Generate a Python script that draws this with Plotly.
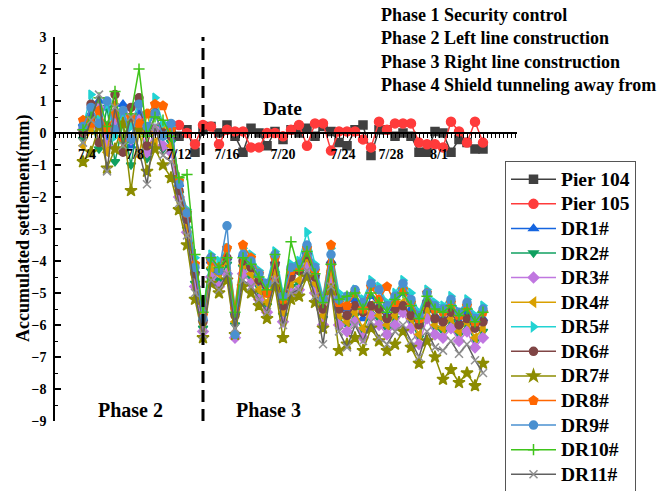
import plotly.graph_objects as go

# ---------------- data ----------------
tick_labels = ["7/4", "7/8", "7/12", "7/16", "7/20", "7/24", "7/28", "8/1"]
tick_positions = [8, 20, 31, 43, 57, 72, 84, 96]
n_units = 116  # measurement slots along the time axis

x_pier = list(range(29, 108, 2))
x_dr = list(range(7, 108, 2))

pier104 = [0.0, -0.1, 0.1, -0.6, 0.1, 0.2, 0.0, 0.25, -0.1, -0.6, 0.15, 0.0, -0.4, 0.05, -0.2, 0.1,
           0.0, 0.15, -0.1, 0.2, 0.05, -0.3, -0.4, 0.1, 0.25, -0.7, 0.1, 0.1, -0.1, 0.0, -0.1, -0.6,
           -0.6, 0.05, 0.0, -0.6, -0.2, -0.3, -0.5, -0.5]
pier105 = [0.25, 0.25, 0.0, -0.35, 0.25, 0.2, -0.35, 0.1, 0.05, 0.05, -0.45, -0.45, 0.0, 0.0, -0.1, 0.1,
           0.25, -0.4, 0.3, 0.3, -0.55, 0.05, 0.05, 0.05, -0.2, -0.45, 0.35, 0.1, 0.3, 0.3, 0.3, -0.3,
           -0.35, -0.35, -0.45, 0.35, 0.05, -0.3, 0.35, -0.3]

dr1 = [0.3, 0.6, 1.0, -0.2, 0.5, 0.9, -0.4, 0.6, 0.1, 0.7, 0.3, 0.2, -1.6, -2.6, -4.3, -5.8,
       -4.0, -4.3, -3.9, -5.6, -3.8, -4.1, -4.7, -5.0, -4.0, -5.3, -4.4, -4.3, -3.7, -4.4, -5.4, -4.0,
       -5.4, -5.5, -5.2, -5.8, -5.1, -5.4, -5.7, -5.3, -5.0, -5.5, -6.0, -5.2, -5.7, -5.8, -5.5, -5.9,
       -5.6, -6.1, -5.8]
dr2 = [-0.2, 0.4, -0.5, 0.8, -0.9, 0.3, -1.0, 0.5, -0.8, 0.2, -0.5, -0.3, -1.9, -3.0, -4.7, -6.1,
       -4.3, -4.6, -4.1, -6.0, -4.2, -4.5, -5.0, -5.4, -4.4, -5.7, -4.8, -4.7, -4.0, -4.8, -5.8, -4.4,
       -5.8, -6.0, -5.7, -6.2, -5.5, -5.8, -6.1, -5.8, -5.4, -5.9, -6.4, -5.6, -6.1, -6.2, -5.9, -6.3,
       -6.0, -6.5, -6.2]
dr3 = [0.1, 0.2, 0.8, -0.4, 0.3, 0.6, -0.2, 0.4, -0.6, 0.1, -0.4, -0.6, -2.0, -3.1, -4.8, -6.2,
       -4.5, -4.8, -4.4, -6.4, -4.4, -4.7, -5.2, -5.6, -4.6, -5.9, -5.0, -4.9, -4.2, -5.0, -6.0, -4.6,
       -6.0, -6.2, -5.9, -6.4, -5.7, -6.0, -6.3, -6.0, -5.6, -6.1, -6.6, -5.8, -6.3, -6.4, -6.1, -6.5,
       -6.2, -6.7, -6.4]
dr4 = [-0.4, 0.1, 0.5, -0.6, 0.9, -0.5, 0.4, -0.7, 0.6, -0.3, 0.2, -0.4, -1.7, -2.9, -4.4, -5.9,
       -4.2, -4.4, -4.0, -5.9, -4.1, -4.4, -4.9, -5.3, -4.3, -5.6, -4.7, -4.6, -3.9, -4.7, -5.7, -4.3,
       -5.7, -5.9, -5.6, -6.1, -5.4, -5.7, -6.0, -5.7, -5.3, -5.8, -6.3, -5.5, -6.0, -6.1, -5.8, -6.2,
       -5.9, -6.4, -6.1]
dr5 = [0.2, 1.2, 0.4, 0.9, -0.1, 0.6, 0.2, 1.0, 0.0, 1.1, 0.3, 0.2, -1.5, -2.4, -3.9, -5.6,
       -3.8, -4.0, -3.6, -5.4, -3.6, -3.8, -4.3, -4.7, -3.7, -5.0, -4.1, -4.0, -3.1, -4.1, -5.1, -3.6,
       -5.0, -5.2, -4.9, -5.2, -4.6, -4.8, -5.3, -5.0, -4.6, -5.0, -5.6, -4.9, -5.3, -5.4, -5.1, -5.6,
       -5.2, -5.7, -5.4]
dr6 = [0.0, 0.9, -0.3, 0.2, 1.2, -0.6, 0.8, 1.1, -0.4, 0.6, 0.0, -0.1, -1.8, -2.7, -4.4, -5.9,
       -3.9, -4.3, -3.9, -5.7, -4.0, -4.2, -4.6, -5.0, -4.1, -5.4, -4.5, -4.3, -3.8, -4.5, -5.5, -4.1,
       -5.5, -5.7, -5.4, -5.6, -5.4, -5.5, -5.8, -5.5, -5.4, -5.7, -6.0, -5.3, -5.8, -5.9, -5.6, -6.0,
       -5.8, -6.1, -5.9]
dr7 = [-0.9, -0.6, 0.2, -1.1, -0.5, 0.3, -1.8, 0.1, -1.2, -0.5, -1.0, -1.4, -2.4, -3.5, -5.2, -6.4,
       -4.7, -5.0, -4.6, -6.3, -4.8, -5.0, -5.4, -5.8, -4.8, -6.4, -5.2, -5.1, -4.5, -5.3, -6.1, -4.9,
       -6.8, -6.6, -6.4, -6.8, -6.1, -6.5, -6.8, -6.6, -6.2, -6.7, -7.2, -6.5, -7.0, -7.7, -7.4, -7.8,
       -7.5, -7.9, -7.2]
dr8 = [0.4, 0.3, 0.7, 0.1, 0.6, -0.2, 0.5, 0.3, 0.6, 0.9, 0.85, 0.1, -1.5, -2.5, -4.1, -5.7,
       -4.0, -4.2, -3.6, -5.5, -3.5, -3.9, -4.4, -5.0, -3.9, -5.2, -4.3, -4.2, -3.6, -4.3, -5.2, -3.5,
       -5.3, -5.4, -5.0, -5.5, -4.8, -5.2, -4.8, -5.3, -4.9, -5.3, -5.8, -5.0, -5.5, -5.6, -5.3, -5.7,
       -5.4, -5.9, -5.6]
dr9 = [0.2, 0.8, 0.3, 1.0, 0.1, 0.7, -0.2, 0.9, 0.2, 0.6, -0.1, 0.3, -1.6, -2.5, -4.2, -5.8,
       -3.9, -4.3, -2.9, -6.3, -3.8, -4.0, -4.4, -4.7, -3.8, -5.1, -4.2, -4.1, -3.5, -4.2, -5.2, -3.8,
       -5.2, -5.1, -4.9, -5.3, -4.7, -4.9, -5.4, -5.1, -4.7, -5.2, -5.7, -5.0, -5.4, -5.5, -5.2, -5.6,
       -5.3, -5.8, -5.5]
dr10 = [0.1, 0.5, 1.1, 0.2, 1.3, -0.3, 0.6, 2.0, -0.1, 0.5, 0.4, -0.1, -1.4, -1.3, -3.8, -5.6,
        -3.9, -4.2, -3.9, -5.6, -3.9, -4.1, -4.5, -4.9, -3.8, -5.2, -3.4, -4.3, -3.7, -4.4, -5.3, -4.1,
        -5.2, -5.1, -5.0, -5.5, -5.0, -5.3, -5.6, -5.2, -5.0, -5.4, -5.8, -5.1, -5.5, -5.6, -5.4, -5.7,
        -5.5, -5.9, -5.6]
dr11 = [-0.3, 0.4, 1.2, -1.2, 0.8, -0.4, 0.5, -0.6, -1.6, 0.2, -0.7, -0.9, -2.2, -3.2, -5.0, -6.3,
        -4.6, -4.9, -4.4, -6.1, -4.6, -4.8, -5.2, -5.6, -4.6, -6.0, -5.0, -4.9, -4.3, -5.1, -6.6, -4.8,
        -6.2, -6.7, -6.0, -6.5, -5.9, -6.4, -6.6, -6.2, -6.0, -6.5, -7.0, -6.2, -6.7, -6.8, -6.5, -6.9,
        -6.6, -7.1, -7.5]

phase_boundary = 37
phase_notes = ["Phase 1 Security control", "Phase 2 Left line construction",
               "Phase 3 Right line construction", "Phase 4 Shield tunneling away from"]

# ---------------- styles ----------------
series = [
    ("Pier 104", x_pier, pier104, "#404040", "#404040", "square", 8),
    ("Pier 105", x_pier, pier105, "#ff3b3b", "#ff3b3b", "circle", 9),
    ("DR1#", x_dr, dr1, "#1565e0", "#1565e0", "triangle-up", 8),
    ("DR2#", x_dr, dr2, "#10a060", "#10a060", "triangle-down", 8),
    ("DR3#", x_dr, dr3, "#c077e0", "#c077e0", "diamond", 8),
    ("DR4#", x_dr, dr4, "#d9a000", "#d9a000", "triangle-left", 8),
    ("DR5#", x_dr, dr5, "#22d3d3", "#22d3d3", "triangle-right", 8),
    ("DR6#", x_dr, dr6, "#804545", "#804545", "circle", 8),
    ("DR7#", x_dr, dr7, "#8c8c00", "#8c8c00", "star", 9),
    ("DR8#", x_dr, dr8, "#ff6600", "#ff6600", "pentagon", 9),
    ("DR9#", x_dr, dr9, "#4a90d0", "#4a90d0", "circle", 8),
    ("DR10#", x_dr, dr10, "#3fc41a", "#3fc41a", "cross-thin", 8),
    ("DR11#", x_dr, dr11, "#606060", "#909090", "x-thin", 8),
]

serif = "Liberation Serif"

fig = go.Figure()
for name, xs, ys, lc, mc, sym, sz in series:
    fig.add_trace(go.Scatter(
        x=xs, y=ys, name='<span style="font-size:19.5px">' + name + '</span>',
        mode="lines+markers",
        line=dict(color=lc, width=1.5),
        marker=dict(symbol=sym, size=sz, color=mc, line=dict(color=mc, width=1.5)),
    ))

fig.add_shape(type="line", x0=phase_boundary, x1=phase_boundary, y0=-9, y1=3,
              xref="x", yref="y", line=dict(color="black", width=3, dash="12px,7px"))

ticktext = [""] * n_units
for p, lab in zip(tick_positions, tick_labels):
    ticktext[p] = lab

fig.update_layout(
    width=657, height=491,
    margin=dict(l=55, r=140, t=37, b=70, autoexpand=False),
    paper_bgcolor="white", plot_bgcolor="white",
    font=dict(family=serif, color="black"),
    showlegend=True,
    legend=dict(x=505 / 657, y=1 - 161 / 491, xref="container", yref="container",
                xanchor="left", yanchor="top", maxheight=1,
                bgcolor="white", bordercolor="#555555", borderwidth=1,
                font=dict(family=serif, size=16.6, weight="bold"),
                itemwidth=45, tracegroupgap=0),
    xaxis=dict(range=[0, 115.5], anchor="free", position=0.75,
               showline=True, linecolor="black", linewidth=2,
               tickmode="array", tickvals=list(range(n_units)), ticktext=ticktext,
               ticks="outside", ticklen=4, tickwidth=1, tickcolor="black",
               tickfont=dict(family=serif, size=14, weight="bold"),
               ticklabelstandoff=4,
               showgrid=False, zeroline=False),
    yaxis=dict(range=[-9, 3], dtick=1, showline=True, linecolor="black", linewidth=1.5,
               ticks="inside", ticklen=6, tickwidth=1.5, tickcolor="black",
               minor=dict(dtick=0.5, ticks="inside", ticklen=3, tickwidth=1, tickcolor="black"),
               tickfont=dict(family=serif, size=14, weight="bold"),
               ticklabelstandoff=4,
               showgrid=False, zeroline=False),
)

fig.add_annotation(x=-32 / 462, y=0.5, xref="paper", yref="paper", textangle=-90,
                   xanchor="center", yanchor="middle",
                   text="Accumulated settlement(mm)", showarrow=False,
                   font=dict(family=serif, size=18, weight="bold"))
fig.add_annotation(x=56.75, y=0.78, xref="x", yref="y", text="Date", showarrow=False,
                   font=dict(family=serif, size=19.5, weight="bold"))
fig.add_annotation(x=18.75, y=-8.65, xref="x", yref="y", text="Phase 2", showarrow=False,
                   font=dict(family=serif, size=20, weight="bold"))
fig.add_annotation(x=53.25, y=-8.65, xref="x", yref="y", text="Phase 3", showarrow=False,
                   font=dict(family=serif, size=20, weight="bold"))
for i, note in enumerate(phase_notes):
    fig.add_annotation(x=0.701, y=1.057 - i * 0.0605, xref="paper", yref="paper",
                       xanchor="left", yanchor="middle", text=note, showarrow=False,
                       font=dict(family=serif, size=18, weight="bold"))

fig.write_html("out.html")
